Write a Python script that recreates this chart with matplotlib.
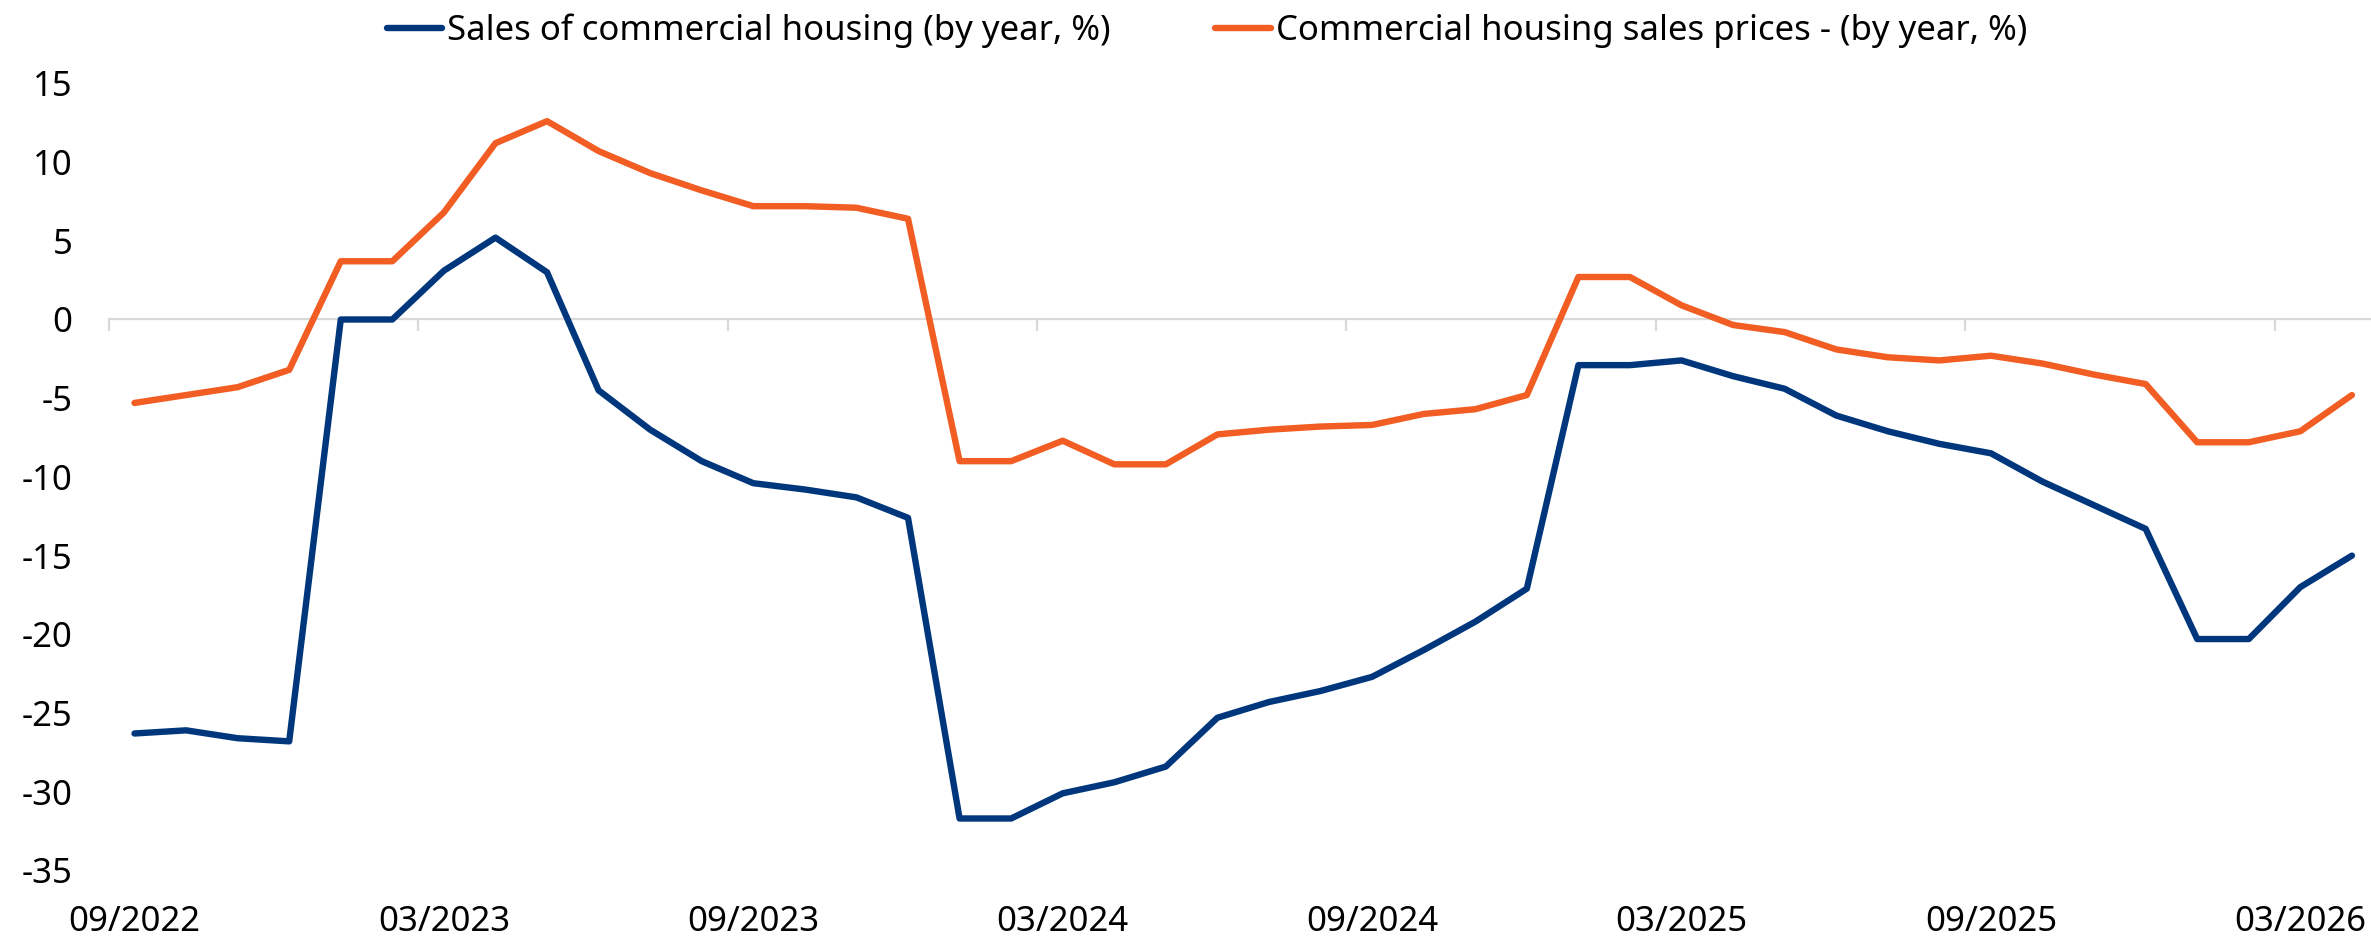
import matplotlib
matplotlib.use('Agg')
import matplotlib.pyplot as plt
import pandas as pd

plt.rcParams['font.family'] = ['Noto Sans', 'DejaVu Sans']
plt.rcParams['axes.unicode_minus'] = False

# monthly categories, 09/2022 .. 04/2026
months = pd.date_range('2022-09-01', periods=44, freq='MS').strftime('%m/%Y').tolist()

sales = [-26.3, -26.1, -26.6, -26.8, 0.0, 0.0, 3.1, 5.2, 3.0, -4.5,
         -7.0, -9.0, -10.4, -10.8, -11.3, -12.6, -31.7, -31.7, -30.1, -29.4,
         -28.4, -25.3, -24.3, -23.6, -22.7, -21.0, -19.2, -17.1, -2.9, -2.9,
         -2.6, -3.6, -4.4, -6.1, -7.1, -7.9, -8.5, -10.3, -11.8, -13.3,
         -20.3, -20.3, -17.0, -15.0]
prices = [-5.3, -4.8, -4.3, -3.2, 3.7, 3.7, 6.8, 11.2, 12.6, 10.7,
          9.3, 8.2, 7.2, 7.2, 7.1, 6.4, -9.0, -9.0, -7.7, -9.2,
          -9.2, -7.3, -7.0, -6.8, -6.7, -6.0, -5.7, -4.8, 2.7, 2.7,
          0.9, -0.35, -0.8, -1.9, -2.4, -2.6, -2.3, -2.8, -3.5, -4.1,
          -7.8, -7.8, -7.1, -4.8]

label_sales = 'Sales of commercial housing (by year, %)'
label_prices = 'Commercial housing sales prices - (by year, %)'
yticks = [15, 10, 5, 0, -5, -10, -15, -20, -25, -30, -35]

blue = '#00377C'
orange = '#F15D22'
grey = '#D9D9D9'

fig = plt.figure(figsize=(23.71, 9.40), dpi=100)
ax = fig.add_axes([0.04585, 0.0740, 0.95415, 0.8373])

x = list(range(len(months)))
ax.plot(x, sales, color=blue, lw=4.6, label=label_sales,
        solid_capstyle='round', solid_joinstyle='round')
ax.plot(x, prices, color=orange, lw=4.6, label=label_prices,
        solid_capstyle='round', solid_joinstyle='round')

ax.set_xlim(-0.5, 43.37)
ax.set_ylim(-35, 15)

for s in ax.spines.values():
    s.set_visible(False)

# labels every 6 months, at the bottom
ax.set_xticks(x[::6])
ax.set_xticklabels(months[::6])
ax.tick_params(axis='x', length=0, pad=25, labelsize=25)
ax.set_yticks(yticks)
ax.set_yticklabels([str(v) for v in yticks])
ax.tick_params(axis='y', length=0, pad=26, labelsize=25)

# category axis crossing at zero, ticks between categories
zax = ax.secondary_xaxis(0, transform=ax.transData)
zax.spines['bottom'].set_color(grey)
zax.spines['bottom'].set_linewidth(1.6)
zax.set_xticks([v - 0.5 for v in x[::6]])
zax.tick_params(axis='x', direction='out', length=8.5, width=1.6,
                color=grey, labelbottom=False)

fig.legend(loc='center', bbox_to_anchor=(0.509, 0.967), ncol=2,
           frameon=False, fontsize=25, handlelength=1.6, handletextpad=0.15,
           columnspacing=3.0)

fig.savefig('out.png', dpi=100)
